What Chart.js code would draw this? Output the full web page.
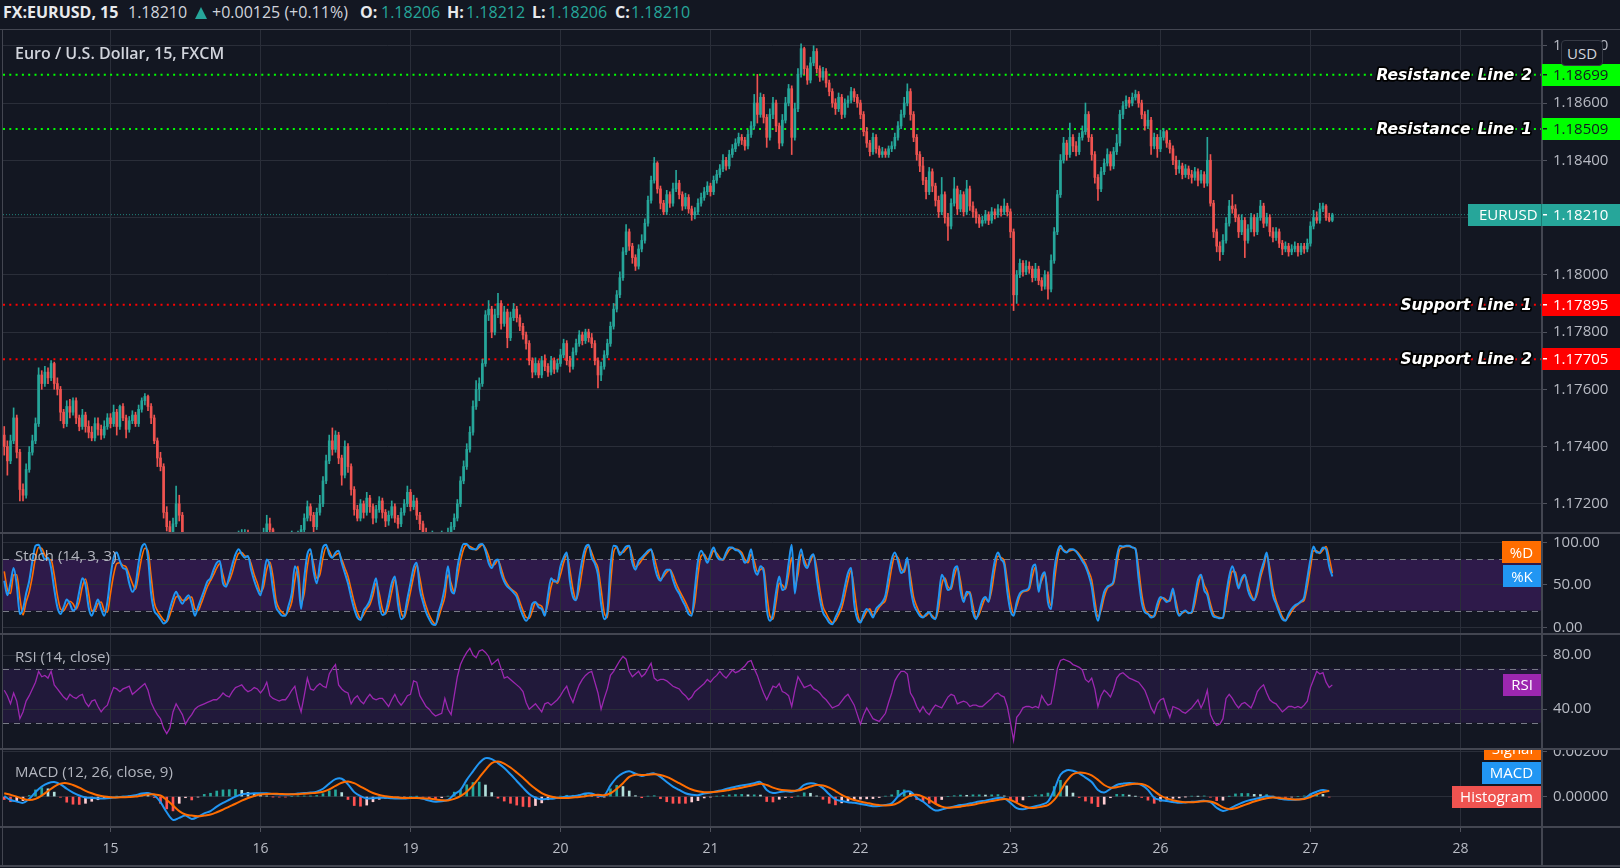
<!DOCTYPE html>
<html><head><meta charset="utf-8">
<script src="https://cdn.jsdelivr.net/npm/chart.js@4.4.1/dist/chart.umd.min.js"></script>
<style>
html,body{margin:0;padding:0;background:#131722;}
#root{position:relative;width:1620px;height:868px;overflow:hidden;background:#131722;font-family:'Open Sans',sans-serif;}
canvas{position:absolute;left:0;}
.hl{position:absolute;left:0;width:1620px;height:2px;background:#434651;}
.t{position:absolute;white-space:nowrap;line-height:25px;}
.h{top:0;font-size:16px;color:#d1d4dc;}
.b{font-weight:700;color:#e8eaed;}
.g{color:#26a69a;}
.pl{left:15px;font-size:15px;color:#b2b5be;}
</style></head><body><div id="root">
<canvas id="cMain" width="1620" height="503" style="top:30px"></canvas>
<canvas id="cStoch" width="1620" height="101" style="top:533px"></canvas>
<canvas id="cRsi" width="1620" height="115" style="top:634px"></canvas>
<canvas id="cMacd" width="1620" height="117" style="top:749px"></canvas>

<div class="hl" style="top:29px;height:1px"></div>
<div class="hl" style="top:532px"></div>
<div class="hl" style="top:633px"></div>
<div class="hl" style="top:748px"></div>
<div class="hl" style="top:826px"></div>
<div class="hl" style="top:865px"></div>
<div style="position:absolute;left:2px;top:29px;width:1px;height:838px;background:#434651"></div>

<div class="t h b" style="left:3px">FX:EURUSD, 15</div>
<div class="t h" style="left:128px">1.18210</div>
<div style="position:absolute;left:195px;top:7px;width:0;height:0;border-left:6px solid transparent;border-right:6px solid transparent;border-bottom:12px solid #26a69a"></div>
<div class="t h" style="left:212px">+0.00125 (+0.11%)</div>
<div class="t h b" style="left:360px">O:</div><div class="t h g" style="left:381px">1.18206</div>
<div class="t h b" style="left:447px">H:</div><div class="t h g" style="left:466px">1.18212</div>
<div class="t h b" style="left:532px">L:</div><div class="t h g" style="left:548px">1.18206</div>
<div class="t h b" style="left:615px">C:</div><div class="t h g" style="left:631px">1.18210</div>

<div class="t" style="left:15px;top:41px;font-size:16px;font-weight:600;color:#d1d4dc">Euro / U.S. Dollar, 15, FXCM</div>
<div class="t pl" style="top:543px">Stoch (14, 3, 3)</div>
<div class="t pl" style="top:644px">RSI (14, close)</div>
<div class="t pl" style="top:759px">MACD (12, 26, close, 9)</div>
<div style="position:absolute;left:1561px;top:40px;width:40px;height:24px;border:1px solid #363a45;border-radius:4px;background:#131722;color:#d1d4dc;font-size:15px;line-height:24px;text-align:center">USD</div>
</div>
<script>
// ---------- DATA ----------
// prices in points of 0.00001 above 1.17000, 30-minute candles
const PRICE_BASE = 1.17, POINT = 0.00001;
const FIRST_OPEN = 440;
const closePts = [
400,350,420,500,380,250,230,320,380,420,
480,650,620,660,640,690,620,600,520,480,
540,520,560,500,470,510,470,450,430,480,
460,440,470,500,480,520,470,540,500,460,
490,510,480,530,560,575,540,500,420,360,
330,170,120,100,130,200,160,90,60,40,
20,0,-20,-10,10,0,-30,-20,0,20,
40,30,50,60,80,90,95,100,85,70,
60,80,90,100,130,110,80,60,50,70,
60,80,90,70,90,110,150,190,160,120,
170,200,280,350,420,390,440,360,300,400,
330,250,180,150,200,170,220,190,150,180,
210,170,140,160,190,150,130,170,200,240,
190,210,160,130,100,80,70,90,60,70,
90,80,100,120,150,200,280,330,390,450,
540,600,620,690,860,880,800,860,900,830,
870,780,850,880,850,820,790,760,700,660,
690,650,700,680,660,700,670,690,720,760,
700,680,730,760,790,770,800,780,760,700,
650,680,720,760,820,880,930,990,1080,1150,
1100,1060,1030,1090,1120,1180,1260,1330,1390,1300,
1250,1220,1280,1250,1300,1320,1280,1240,1270,1230,
1210,1220,1250,1270,1290,1310,1290,1330,1350,1370,
1400,1380,1420,1440,1460,1480,1470,1450,1490,1520,
1600,1560,1620,1550,1480,1560,1600,1520,1460,1540,
1600,1650,1480,1580,1700,1790,1720,1680,1740,1780,
1720,1690,1710,1670,1640,1600,1580,1620,1560,1600,
1610,1640,1620,1600,1560,1500,1460,1430,1480,1440,
1420,1430,1420,1440,1450,1480,1520,1560,1600,1640,
1560,1480,1420,1380,1330,1290,1360,1310,1260,1220,
1280,1200,1170,1250,1300,1230,1280,1220,1300,1240,
1220,1200,1180,1190,1210,1190,1220,1210,1230,1220,
1240,1220,1150,930,1000,1040,1010,1030,1020,990,
1020,980,960,1000,950,1050,1150,1280,1400,1460,
1420,1480,1450,1430,1480,1500,1560,1480,1420,1340,
1300,1360,1390,1420,1380,1430,1460,1560,1590,1610,
1600,1620,1630,1600,1560,1520,1540,1450,1480,1440,
1480,1500,1460,1440,1400,1370,1380,1350,1370,1350,
1340,1360,1330,1350,1320,1400,1250,1150,1100,1080,
1120,1180,1240,1230,1200,1150,1190,1120,1160,1200,
1150,1200,1240,1180,1200,1150,1130,1150,1110,1090,
1100,1080,1090,1100,1080,1100,1090,1110,1170,1200,
1190,1230,1240,1200,1190,1210];
const highPts = [
470,420,440,535,510,390,270,340,400,440,
500,675,665,680,675,700,695,640,610,530,
560,565,570,570,510,530,520,490,470,500,
500,475,490,515,515,545,530,545,550,510,
505,525,520,545,570,585,580,550,510,430,
380,340,190,140,150,262,230,170,100,75,
55,35,15,5,25,25,10,-5,15,35,
55,60,70,80,95,105,110,110,108,95,
80,95,100,115,160,150,115,90,70,85,
85,95,105,100,105,125,165,210,200,170,
185,230,295,370,440,465,455,450,370,420,
410,340,260,195,215,210,240,230,200,195,
225,220,180,175,210,200,160,185,215,262,
250,230,220,170,140,115,95,105,100,85,
105,100,115,135,165,215,295,350,410,470,
560,630,640,705,875,910,890,880,935,910,
890,880,870,900,890,860,830,800,770,710,
710,700,715,720,690,715,710,705,740,775,
770,715,745,775,805,800,810,810,795,770,
710,695,735,775,835,900,945,1010,1095,1175,
1160,1110,1070,1105,1140,1195,1275,1345,1410,1395,
1310,1260,1295,1290,1320,1365,1330,1290,1285,1280,
1240,1235,1265,1285,1305,1325,1320,1345,1365,1385,
1420,1410,1435,1455,1475,1495,1490,1480,1505,1535,
1630,1700,1635,1630,1560,1580,1620,1610,1530,1560,
1620,1665,1660,1600,1720,1807,1795,1730,1760,1800,
1790,1730,1725,1720,1680,1650,1615,1635,1630,1615,
1625,1655,1650,1630,1610,1570,1515,1470,1495,1490,
1450,1445,1440,1450,1465,1495,1535,1575,1620,1667,
1650,1570,1490,1430,1410,1340,1375,1370,1320,1275,
1340,1290,1215,1265,1340,1310,1295,1290,1330,1310,
1255,1230,1210,1205,1225,1220,1235,1230,1245,1240,
1265,1250,1230,1160,1015,1055,1050,1050,1045,1030,
1040,1030,990,1015,1010,1070,1165,1295,1420,1480,
1470,1530,1490,1465,1495,1520,1600,1570,1490,1430,
1350,1375,1405,1440,1430,1445,1490,1575,1605,1625,
1620,1635,1645,1640,1610,1570,1575,1550,1495,1490,
1505,1510,1505,1470,1450,1415,1400,1390,1385,1380,
1365,1375,1370,1365,1360,1480,1420,1260,1160,1115,
1140,1200,1260,1280,1245,1210,1210,1200,1175,1215,
1210,1215,1260,1250,1215,1210,1165,1165,1160,1120,
1115,1110,1105,1115,1110,1110,1110,1125,1185,1225,
1220,1250,1250,1245,1215,1215];
const lowPts = [
370,300,340,410,360,210,210,220,310,370,
410,470,600,610,620,630,600,580,490,465,
470,500,510,480,455,460,450,430,420,420,
440,425,430,460,465,470,440,460,490,430,
450,480,470,470,520,545,525,480,410,330,
315,150,105,80,90,120,140,70,40,20,
0,-20,-40,-35,-20,-15,-45,-40,-30,-10,
10,15,20,40,50,70,75,80,70,55,
45,50,70,80,95,95,65,45,35,40,
45,50,70,55,60,80,100,140,140,100,
110,160,190,270,340,370,380,340,265,290,
310,230,160,140,140,150,160,170,130,135,
170,150,120,125,150,135,115,120,160,190,
175,180,145,110,85,65,55,60,45,50,
60,65,70,90,110,140,190,270,320,380,
440,530,560,610,680,840,780,790,850,810,
820,745,770,840,835,805,775,740,685,640,
650,640,640,665,645,650,655,660,680,710,
685,660,670,720,750,755,760,765,745,685,
605,630,670,710,750,810,870,920,980,1070,
1085,1040,1015,1020,1080,1110,1170,1250,1320,1285,
1230,1210,1210,1235,1240,1290,1265,1225,1230,1215,
1190,1195,1210,1240,1260,1280,1275,1280,1320,1340,
1360,1365,1370,1410,1430,1450,1455,1435,1440,1480,
1510,1530,1550,1530,1445,1470,1545,1500,1440,1450,
1530,1590,1420,1470,1570,1690,1700,1665,1670,1730,
1705,1675,1680,1655,1625,1585,1560,1570,1545,1550,
1585,1600,1605,1585,1545,1485,1445,1415,1420,1425,
1410,1410,1410,1410,1430,1440,1470,1510,1550,1590,
1540,1465,1400,1360,1315,1265,1280,1290,1240,1200,
1210,1180,1120,1160,1240,1210,1220,1205,1210,1225,
1200,1180,1165,1170,1180,1175,1180,1195,1200,1205,
1210,1205,1130,875,900,990,995,1000,1005,975,
980,965,945,950,915,940,1040,1140,1270,1390,
1400,1410,1430,1415,1420,1470,1490,1465,1400,1320,
1260,1290,1350,1380,1365,1370,1420,1450,1545,1580,
1585,1590,1610,1585,1545,1505,1510,1420,1440,1410,
1430,1470,1445,1425,1385,1350,1355,1335,1340,1335,
1320,1330,1310,1320,1305,1310,1240,1130,1080,1050,
1070,1110,1170,1215,1185,1130,1140,1060,1110,1150,
1135,1140,1190,1165,1170,1135,1115,1120,1095,1070,
1080,1065,1070,1080,1065,1070,1075,1080,1100,1160,
1180,1180,1220,1190,1185,1185];
// Stochastic (14,3,3), 30-minute
const stochK = [
55,38,52,70,50,16,22,40,55,78,
96,97,88,80,82,70,45,24,16,24,
33,28,20,24,42,58,50,24,14,24,
33,22,14,30,60,82,88,78,70,68,
52,42,50,76,94,98,82,40,20,15,
10,5,8,22,34,42,34,28,34,38,
28,14,24,34,44,54,58,68,76,78,
52,48,60,74,86,92,86,82,84,68,
55,45,38,58,80,72,45,24,18,14,
14,26,40,72,60,22,58,86,92,66,
52,74,94,97,86,82,88,90,76,64,
52,36,22,12,9,20,25,32,46,58,
28,15,18,34,52,60,28,10,14,34,
52,70,76,45,30,18,10,4,3,18,
30,48,72,44,40,70,88,98,98,93,
92,92,97,98,90,76,70,78,80,64,
54,48,45,41,36,24,14,8,14,28,
30,24,22,14,38,58,54,54,72,82,
88,55,36,32,58,80,94,97,82,75,
62,28,10,18,72,96,95,85,90,95,
96,76,68,78,82,86,90,92,74,60,
55,63,68,68,56,46,40,32,25,16,
14,45,78,90,84,76,86,94,84,80,
80,88,94,94,91,90,85,76,80,92,
70,62,72,66,22,8,16,42,60,44,
48,75,97,40,74,92,75,70,82,86,
58,34,18,12,6,4,12,20,30,48,
64,70,28,10,6,16,22,18,12,22,
26,30,38,60,80,88,78,64,68,82,
48,28,20,14,12,16,18,12,10,34,
62,55,44,48,68,72,44,30,42,40,
18,10,20,32,36,30,56,78,88,80,
74,42,20,14,30,40,43,44,48,70,
74,42,60,65,30,22,66,88,96,90,
88,92,92,89,84,78,72,62,48,22,
8,26,42,48,50,55,82,96,95,96,
96,94,92,58,30,18,16,12,14,28,
36,34,30,33,46,24,14,18,20,17,
18,36,56,62,44,38,22,13,12,11,
12,38,60,72,60,46,58,62,44,35,
32,46,64,76,88,62,38,28,18,10,
8,16,22,26,28,31,36,58,80,95,
88,88,94,92,72,60];
const stochD = [
66,45,40,62,62,35,15,30,42,60,
82,94,93,85,80,79,62,38,22,20,
26,31,28,22,30,48,57,40,20,20,
28,30,20,18,40,62,75,76,73,71,
62,52,45,62,82,93,90,60,30,20,
14,9,7,15,26,36,37,32,32,35,
36,22,20,28,38,48,55,62,70,75,
62,50,55,65,78,87,88,84,83,75,
62,52,42,48,68,77,60,32,22,18,
15,20,30,55,72,30,40,72,87,75,
58,62,82,94,90,83,85,87,80,70,
60,45,30,18,11,15,22,27,38,52,
40,22,16,25,42,56,40,18,12,25,
42,60,73,58,38,25,15,8,4,12,
24,36,62,52,42,58,78,92,97,95,
93,91,94,97,93,84,73,74,79,70,
58,51,46,43,40,30,20,12,11,20,
29,27,25,17,28,48,56,52,62,76,
85,68,45,33,45,68,88,95,88,78,
70,45,18,12,50,88,94,88,88,92,
95,84,71,74,79,84,88,91,82,68,
57,60,65,68,62,52,44,37,30,22,
16,30,62,84,86,80,82,90,87,82,
79,85,91,93,92,91,88,80,76,86,
78,66,68,70,40,14,10,30,52,50,
45,62,82,50,62,86,80,72,78,85,
70,45,25,17,10,6,8,15,23,38,
55,67,45,18,8,12,19,22,14,18,
24,28,32,48,70,84,82,70,65,78,
60,36,25,17,13,14,17,14,11,22,
50,58,48,45,60,70,55,34,38,42,
26,12,16,26,34,31,44,68,84,82,
78,55,30,17,25,37,42,43,45,60,
71,48,55,63,40,26,52,80,93,91,
89,90,91,90,86,81,75,66,56,32,
13,20,36,46,49,52,72,92,94,95,
95,94,93,70,40,22,17,14,13,22,
33,35,32,31,42,30,16,17,19,18,
17,28,48,60,50,42,28,16,13,12,
11,28,50,66,65,49,55,61,50,39,
33,40,58,71,84,70,46,32,22,13,
9,13,19,24,27,30,32,48,70,90,
90,87,91,95,82,64];
// RSI (14, close), 30-minute
const rsi14 = [
54,50,44,52,46,33,38,46,50,55,
60,68,64,65,63,68,58,55,52,49,
47,51,49,48,50,51,45,42,46,47,
42,38,41,43,50,56,55,53,55,56,
57,51,53,55,57,59,54,45,40,36,
33,26,22,26,38,44,40,36,29,33,
36,40,42,43,44,45,46,47,47,49,
52,50,49,53,56,57,58,55,53,54,
56,55,52,55,60,50,48,47,46,47,
47,50,54,57,46,38,50,63,55,54,
57,59,57,56,66,70,73,58,55,53,
52,44,48,50,46,44,48,51,48,47,
48,48,45,42,47,51,46,43,46,50,
51,61,60,50,46,42,40,37,35,36,
37,48,40,36,50,64,73,78,82,85,
80,78,83,84,82,79,73,75,77,70,
63,64,62,60,58,56,53,45,40,42,
44,41,38,44,45,43,45,47,50,54,
57,50,45,52,58,62,65,67,68,60,
52,40,48,55,65,68,72,76,79,77,
68,64,66,68,64,66,70,74,63,61,
62,62,61,59,57,56,55,52,50,47,
49,53,55,57,59,62,60,63,65,68,
65,63,66,69,67,68,70,72,75,76,
70,65,58,52,47,52,57,56,59,53,
52,50,42,54,64,60,56,57,58,55,
54,52,49,47,44,41,42,43,46,49,
51,47,43,36,29,36,41,37,33,32,
31,34,37,45,52,61,65,68,68,66,
52,48,42,38,42,38,36,40,43,42,
41,45,49,51,50,44,45,46,45,42,
43,43,42,42,44,46,48,51,52,50,
49,42,30,17,34,37,41,42,42,41,
42,41,50,46,43,44,56,70,76,77,
76,75,73,72,71,69,62,60,63,55,
42,50,54,52,49,55,63,66,67,65,
63,62,61,60,57,54,48,41,37,44,
47,48,40,34,42,41,40,38,37,39,
41,44,47,41,46,54,36,31,28,29,
33,48,51,48,44,41,44,45,43,41,
46,53,56,58,52,47,45,44,41,38,
40,42,42,41,42,41,43,46,56,62,
68,66,67,60,56,58];
// MACD (12,26,close,9), hourly samples, in 0.00001
const macdLine = [
2,-15,-22,-28,-10,20,45,60,65,55,
35,18,5,-4,-6,-8,-8,-6,-3,-1,
2,6,14,16,6,-25,-70,-104,-95,-85,
-100,-90,-75,-65,-45,-28,-14,0,10,13,
15,15,15,12,10,9,10,14,16,18,
22,35,58,78,80,55,20,2,-8,-7,
-5,-5,-7,-8,-8,-6,-5,-10,-18,-23,
-21,-15,10,30,75,113,150,172,168,150,
128,100,70,40,12,-5,-12,-10,-8,-4,
0,2,6,14,14,4,5,50,85,105,
113,102,92,100,104,88,65,45,30,15,
8,6,14,18,24,30,38,44,50,54,
60,65,30,16,20,24,22,30,52,60,
55,38,10,-12,-20,-25,-28,-33,-38,-43,
-42,-38,-30,0,20,22,-5,-22,-45,-62,
-58,-50,-44,-38,-34,-28,-22,-18,-12,-6,
-8,-28,-52,-57,-50,-43,-36,-22,30,98,
118,116,104,85,65,30,18,35,52,58,
61,58,52,30,-5,-15,-20,-24,-28,-26,
-23,-22,-18,-25,-50,-64,-55,-40,-28,-18,
-12,-5,2,-2,-10,-13,-14,-13,-8,10,
22,30,24];
const macdSignal = [
15,8,0,-10,-15,-10,5,25,45,58,
60,52,40,26,15,6,0,-3,-4,-3,
-2,0,5,9,10,5,-15,-40,-65,-80,
-85,-88,-85,-80,-70,-58,-45,-32,-18,-6,
3,9,12,13,12,11,10,11,13,15,
17,22,32,48,62,68,60,45,30,16,
7,2,-2,-4,-6,-6,-6,-7,-9,-13,
-16,-17,-10,2,22,50,85,120,150,157,
148,130,108,84,58,35,16,4,-3,-6,
-6,-4,-2,2,6,8,6,15,35,60,
88,98,97,98,100,97,88,75,60,45,
32,24,20,20,22,25,30,35,40,46,
52,58,52,40,32,28,26,27,35,45,
52,50,40,25,8,-5,-15,-22,-28,-34,
-38,-40,-38,-28,-10,5,8,0,-15,-32,
-45,-50,-48,-45,-40,-36,-30,-25,-20,-15,
-11,-15,-28,-42,-50,-50,-45,-38,-15,25,
70,100,108,105,95,75,52,40,42,48,
54,57,56,46,25,5,-8,-16,-22,-25,
-25,-23,-21,-22,-32,-48,-56,-52,-42,-32,
-22,-14,-7,-4,-6,-9,-12,-13,-11,-2,
10,20,26];
const macdHist = [
-13,-23,-22,-18,5,30,40,35,20,-3,
-25,-34,-35,-30,-21,-14,-8,-3,1,2,
4,6,9,7,-4,-30,-55,-64,-30,-5,
-15,-2,10,15,25,30,31,32,28,19,
12,6,3,-1,-2,-2,0,3,3,3,
5,13,26,30,18,-13,-40,-43,-38,-23,
-12,-7,-5,-4,-2,0,1,-3,-9,-10,
-5,2,20,28,53,63,65,52,18,-7,
-20,-30,-38,-44,-46,-40,-28,-14,-5,2,
6,6,8,12,8,-4,-1,35,50,45,
25,4,-5,2,4,-9,-23,-30,-30,-30,
-24,-18,-6,-2,2,5,8,9,10,8,
8,7,-22,-24,-12,-4,-4,3,17,15,
3,-12,-30,-37,-28,-20,-13,-11,-10,-9,
-4,2,8,28,30,17,-13,-22,-30,-30,
-13,0,4,7,6,8,8,7,8,9,
3,-13,-24,-15,0,7,9,16,45,73,
48,16,-4,-20,-30,-45,-34,-5,10,10,
7,1,-4,-16,-30,-20,-12,-8,-6,-1,
2,1,3,-3,-18,-16,1,12,14,14,
10,9,9,2,-4,-4,-2,0,3,12,
12,10,-2];
const dayLabels = ['15','16','19','20','21','22','23','26','27','28'];
const dayStartIdx = [34,82,130,178,226,274,322,370,418,466];
const priceTicks = [1.172,1.174,1.176,1.178,1.180,1.182,1.184,1.186,1.188];
const levelNames = ['Resistance Line 2','Resistance Line 1','Support Line 1','Support Line 2'];
const levelPrices = [1.18699,1.18509,1.17895,1.17705];
const lastPrice = 1.18210;

// ---------- STYLE ----------
const UP='#26a69a', DOWN='#ef5350', GRID='#2a2e39', AXISTXT='#b8bbc4', SEP='#434651';
const levelColors = ['#00ff00','#00ff00','#ff0000','#ff0000'];
const levelTextColors = ['#131722','#131722','#ffffff','#ffffff'];
const X_MIN=-0.4, X_MAX=492.1;
const FONT='"Open Sans"';
Chart.defaults.font.family = FONT;
Chart.defaults.animation = false;
Chart.defaults.events = [];

const P = v => PRICE_BASE + v*POINT;
const M = v => v*POINT;
const opens = closePts.map((c,i)=> i ? closePts[i-1] : FIRST_OPEN);
const candleColor = c => closePts[c.dataIndex] >= opens[c.dataIndex] ? UP : DOWN;

function xScale(show){
  return {type:'linear', min:X_MIN, max:X_MAX, offset:false, display:true,
    afterBuildTicks:s=>{ s.ticks = dayStartIdx.map(v=>({value:v})); },
    afterFit:s=>{ s.height = show ? 39 : 0; s.paddingLeft=0; s.paddingRight=0; },
    grid:{color:GRID, drawTicks:show, tickLength:5, tickColor:'#50535e', offset:false},
    border:{display:false},
    ticks:{display:show, color:AXISTXT, font:{size:14}, padding:9, maxRotation:0, autoSkip:false,
      callback:(v,i)=>dayLabels[i]}
  };
}
function yScale(min,max,ticks,dec){
  return {type:'linear', position:'right', min, max,
    afterBuildTicks:s=>{ s.ticks = ticks.map(v=>({value:v})); },
    afterFit:s=>{ s.width=78; s.paddingTop=0; s.paddingBottom=0; },
    grid:{color:GRID, drawTicks:true, tickLength:5, tickColor:'#50535e'},
    border:{display:false},
    ticks:{color:AXISTXT, font:{size:15}, padding:6, callback:v=>Number(v).toFixed(dec)}
  };
}
const baseOpts = (x,y)=>({responsive:false, maintainAspectRatio:false, devicePixelRatio:1,
  layout:{padding:{left:3,right:0,top:0,bottom:0}},
  plugins:{legend:{display:false}, tooltip:{enabled:false}}, scales:{x, y}});

function axisLine(chart){
  const ctx=chart.ctx; ctx.save(); ctx.fillStyle=SEP;
  ctx.fillRect(chart.chartArea.right-1, 0, 2, chart.height); ctx.restore();
}
function priceTag(ctx, left, right, yc, bg, fg, label){
  ctx.fillStyle=bg; ctx.fillRect(left, Math.round(yc-11), right-left, 22);
  ctx.fillStyle=fg; ctx.fillRect(right-78+1, Math.round(yc)-1, 4, 1.5);
  ctx.font='15px '+FONT; ctx.textAlign='left'; ctx.textBaseline='middle';
  ctx.fillText(label, right-78+11, yc+1);
}
function outlinedWords(ctx, text, right, y, gap){
  const words=text.split(' '); let x=right;
  for(let k=words.length-1;k>=0;k--){
    ctx.strokeText(words[k], x, y); ctx.fillText(words[k], x, y);
    x -= ctx.measureText(words[k]).width + gap;
  }
}
function paneTags(chart, items){
  const ctx=chart.ctx, y=chart.scales.y, right=chart.chartArea.right-1;
  ctx.save(); ctx.font='15px '+FONT; ctx.textAlign='center'; ctx.textBaseline='middle';
  const arr = items.map(it=>Object.assign({}, it, {py:y.getPixelForValue(it.value)})).sort((a,b)=>b.py-a.py);
  let prev=null;
  arr.forEach(it=>{
    let py=it.py; if(prev!==null) py=Math.min(py, prev-24); prev=py;
    const w=Math.round(ctx.measureText(it.label).width+16);
    ctx.fillStyle=it.bg; ctx.fillRect(right-w, Math.round(py-11), w, 22);
    ctx.fillStyle='#ffffff'; ctx.fillText(it.label, right-w/2, py+1);
  });
  ctx.restore();
}
function bandPlugin(lo, hi, fill){
  return {id:'band',
    beforeDraw(chart){ const ctx=chart.ctx, y=chart.scales.y, a=chart.chartArea;
      ctx.save(); ctx.fillStyle=fill;
      const t=y.getPixelForValue(hi), b=y.getPixelForValue(lo);
      ctx.fillRect(a.left, t, a.right-a.left, b-t); ctx.restore(); },
    beforeDatasetsDraw(chart){ const ctx=chart.ctx, y=chart.scales.y, a=chart.chartArea;
      ctx.save(); ctx.strokeStyle='#787b86'; ctx.lineWidth=1; ctx.setLineDash([6,5]);
      [lo,hi].forEach(v=>{ const py=Math.round(y.getPixelForValue(v))+0.5;
        ctx.beginPath(); ctx.moveTo(a.left,py); ctx.lineTo(a.right,py); ctx.stroke(); });
      ctx.restore(); }
  };
}

// ---------- MAIN ----------
const levelSets = levelPrices.map((p,k)=>({type:'line', order:5,
  data:[{x:X_MIN,y:p},{x:X_MAX,y:p}], borderColor:levelColors[k], borderWidth:2,
  borderDash:[2,4.3], pointRadius:0}));
new Chart(document.getElementById('cMain'), {
  type:'bar',
  data:{datasets:[
    {type:'line', order:6, data:[{x:X_MIN,y:lastPrice},{x:X_MAX,y:lastPrice}], borderColor:'rgba(38,166,154,0.75)', borderWidth:1, borderDash:[1,2], pointRadius:0},
    ...levelSets,
    {label:'wick', order:2, grouped:false, barThickness:1, borderWidth:0,
      data:closePts.map((c,i)=>({x:i, y:[P(lowPts[i]), P(highPts[i])]})), backgroundColor:candleColor},
    {label:'body', order:1, grouped:false, barThickness:2, borderWidth:0, minBarLength:1,
      data:closePts.map((c,i)=>({x:i, y:[P(opens[i]), P(c)]})), backgroundColor:candleColor}
  ]},
  options:baseOpts(xScale(false), yScale(1.17098, 1.18855, priceTicks, 5)),
  plugins:[{id:'mainDeco',
    afterDatasetsDraw(chart){ axisLine(chart); },
    afterDraw(chart){
      const ctx=chart.ctx, y=chart.scales.y, R=chart.chartArea.right;
      ctx.save();
      levelPrices.forEach((p,k)=>{
        const py=y.getPixelForValue(p);
        ctx.font='italic bold 15.5px "DejaVu Sans"'; ctx.textAlign='right'; ctx.textBaseline='middle';
        ctx.lineJoin='round'; ctx.lineWidth=3.5; ctx.strokeStyle='#000000'; ctx.fillStyle='#ffffff';
        outlinedWords(ctx, levelNames[k], R-10, py+1, 7);
        priceTag(ctx, R, chart.width, py, levelColors[k], levelTextColors[k], p.toFixed(5));
      });
      const ly=y.getPixelForValue(lastPrice);
      priceTag(ctx, R-74, chart.width, ly, UP, '#ffffff', lastPrice.toFixed(5));
      ctx.font='15px '+FONT; ctx.textAlign='left'; ctx.fillStyle='#ffffff';
      ctx.fillText('EURUSD', R-63, ly+1);
      ctx.fillStyle='rgba(0,0,0,0.25)'; ctx.fillRect(R-1, Math.round(ly-11), 1, 22);
      ctx.restore();
    }}]
});

// ---------- STOCH ----------
new Chart(document.getElementById('cStoch'), {
  type:'line',
  data:{datasets:[
    {data:stochK.map((v,i)=>({x:i,y:v})), borderColor:'#2196f3', borderWidth:2, pointRadius:0, cubicInterpolationMode:'monotone'},
    {data:stochD.map((v,i)=>({x:i,y:v})), borderColor:'#ff6d00', borderWidth:1.6, pointRadius:0, cubicInterpolationMode:'monotone'}
  ]},
  options:baseOpts(xScale(false), yScale(-7.4, 110.9, [0,50,100], 2)),
  plugins:[bandPlugin(20,80,'#2e1a4a'), {id:'st',
    afterDatasetsDraw(chart){ axisLine(chart); },
    afterDraw(chart){ paneTags(chart, [
      {value:stochK[stochK.length-1], bg:'#2196f3', label:'%K'},
      {value:stochD[stochD.length-1], bg:'#ff6d00', label:'%D'}]); }}]
});

// ---------- RSI ----------
new Chart(document.getElementById('cRsi'), {
  type:'line',
  data:{datasets:[
    {data:rsi14.map((v,i)=>({x:i,y:v})), borderColor:'#9c27b0', borderWidth:1.3, pointRadius:0, tension:0}
  ]},
  options:baseOpts(xScale(false), yScale(10.6, 95.6, [40,80], 2)),
  plugins:[bandPlugin(30,70,'#21193a'), {id:'rs',
    afterDatasetsDraw(chart){ axisLine(chart); },
    afterDraw(chart){ paneTags(chart, [{value:rsi14[rsi14.length-1], bg:'#9c27b0', label:'RSI'}]); }}]
});

// ---------- MACD ----------
const histColor = c => { const i=c.dataIndex, v=macdHist[i], p=i?macdHist[i-1]:0;
  return v>=0 ? (v>=p ? '#26a69a' : '#b2dfdb') : (v<=p ? '#ff5252' : '#ffcdd2'); };
new Chart(document.getElementById('cMacd'), {
  type:'line',
  data:{datasets:[
    {type:'bar', order:3, grouped:false, barThickness:2, borderWidth:0,
      data:macdHist.map((v,j)=>({x:2*j, y:M(v)})), backgroundColor:histColor},
    {order:2, data:macdLine.map((v,j)=>({x:2*j, y:M(v)})), borderColor:'#2196f3', borderWidth:2, pointRadius:0, tension:0.35},
    {order:1, data:macdSignal.map((v,j)=>({x:2*j, y:M(v)})), borderColor:'#ff6d00', borderWidth:2, pointRadius:0, tension:0.35}
  ]},
  options:baseOpts(xScale(true), yScale(-0.00136, 0.00213, [0, 0.002], 5)),
  plugins:[{id:'md',
    afterDatasetsDraw(chart){ axisLine(chart); },
    afterDraw(chart){ paneTags(chart, [
      {value:M(macdHist[macdHist.length-1]), bg:'#ef5350', label:'Histogram'},
      {value:M(macdLine[macdLine.length-1]), bg:'#2196f3', label:'MACD'},
      {value:M(macdSignal[macdSignal.length-1]), bg:'#ff6d00', label:'Signal'}]); }}]
});
</script>
</body></html>
